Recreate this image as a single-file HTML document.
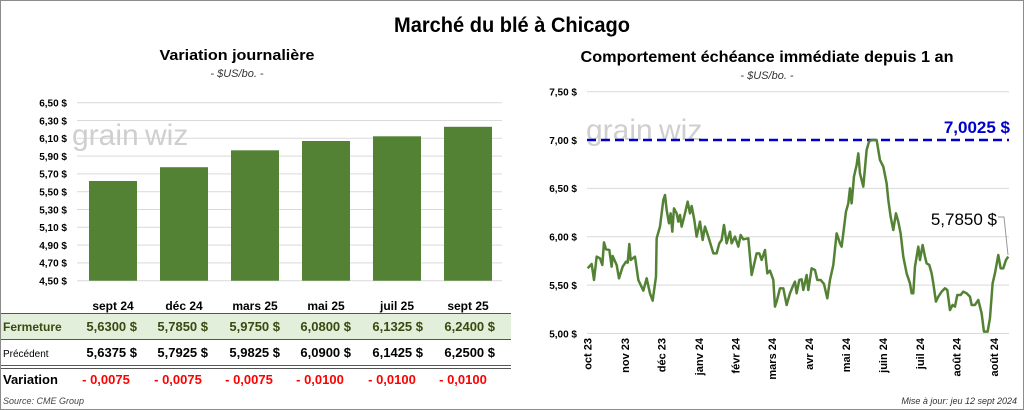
<!DOCTYPE html>
<html><head><meta charset="utf-8"><style>
html,body{margin:0;padding:0;background:#fff}
svg{display:block;font-family:"Liberation Sans",sans-serif}
</style></head><body>
<svg width="1024" height="410" viewBox="0 0 1024 410" xmlns="http://www.w3.org/2000/svg">
<rect x="0.5" y="0.5" width="1023" height="409" fill="#fff" stroke="#8c8c8c"/>
<text x="512" y="32" font-size="21" font-weight="bold" text-anchor="middle" textLength="236" lengthAdjust="spacingAndGlyphs">Marché du blé à Chicago</text>
<!-- Left panel -->
<text x="237" y="60" font-size="15" font-weight="bold" text-anchor="middle" textLength="155" lengthAdjust="spacingAndGlyphs">Variation  journalière</text>
<text x="237" y="77" font-size="11" font-style="italic" text-anchor="middle" fill="#333">- $US/bo. -</text>
<g stroke="#d9d9d9" stroke-width="1">
<line x1="77" x2="502" y1="102.7" y2="102.7"/><line x1="77" x2="502" y1="120.5" y2="120.5"/>
<line x1="77" x2="502" y1="138.3" y2="138.3"/><line x1="77" x2="502" y1="156.1" y2="156.1"/>
<line x1="77" x2="502" y1="173.9" y2="173.9"/><line x1="77" x2="502" y1="191.7" y2="191.7"/>
<line x1="77" x2="502" y1="209.5" y2="209.5"/><line x1="77" x2="502" y1="227.3" y2="227.3"/>
<line x1="77" x2="502" y1="245.1" y2="245.1"/><line x1="77" x2="502" y1="262.9" y2="262.9"/>
<line x1="77" x2="502" y1="280.7" y2="280.7"/>
</g>
<g font-size="10" font-weight="bold" text-anchor="end">
<text x="67" y="106.5">6,50 $</text><text x="67" y="124.3">6,30 $</text><text x="67" y="142.1">6,10 $</text>
<text x="67" y="159.9">5,90 $</text><text x="67" y="177.7">5,70 $</text><text x="67" y="195.5">5,50 $</text>
<text x="67" y="213.3">5,30 $</text><text x="67" y="231.1">5,10 $</text><text x="67" y="248.9">4,90 $</text>
<text x="67" y="266.7">4,70 $</text><text x="67" y="284.5">4,50 $</text>
</g>
<text x="72" y="145" font-size="30" fill="#cfcfcf">grain</text><text x="145" y="145" font-size="30" fill="#cfcfcf">wiz</text>
<g fill="#548235">
<rect x="89" y="181" width="48" height="99.7"/><rect x="160" y="167.2" width="48" height="113.5"/>
<rect x="231" y="150.3" width="48" height="130.4"/><rect x="302" y="141" width="48" height="139.7"/>
<rect x="373" y="136.3" width="48" height="144.4"/><rect x="444" y="126.8" width="48" height="153.9"/>
</g>
<g font-size="12" font-weight="bold" text-anchor="middle">
<text x="113" y="310">sept 24</text><text x="184" y="310">déc 24</text><text x="255" y="310">mars 25</text>
<text x="326" y="310">mai 25</text><text x="397" y="310">juil 25</text><text x="468" y="310">sept 25</text>
</g>
<rect x="1" y="314" width="510" height="25" fill="#e2efda"/>
<line x1="1" x2="511" y1="313.5" y2="313.5" stroke="#555"/>
<line x1="1" x2="511" y1="339.5" y2="339.5" stroke="#555"/>
<line x1="1" x2="511" y1="365.5" y2="365.5" stroke="#555"/>
<line x1="1" x2="511" y1="368.5" y2="368.5" stroke="#555"/>
<text x="3" y="331" font-size="12" font-weight="bold" fill="#3a4a10">Fermeture</text>
<g font-size="13" font-weight="bold" fill="#3a4a10" text-anchor="end">
<text x="137" y="331">5,6300  $</text><text x="208" y="331">5,7850  $</text><text x="280" y="331">5,9750  $</text>
<text x="351" y="331">6,0800  $</text><text x="423" y="331">6,1325  $</text><text x="495" y="331">6,2400  $</text>
</g>
<text x="3" y="357" font-size="10">Précédent</text>
<g font-size="13" font-weight="bold" text-anchor="end">
<text x="137" y="357">5,6375  $</text><text x="208" y="357">5,7925  $</text><text x="280" y="357">5,9825  $</text>
<text x="351" y="357">6,0900  $</text><text x="423" y="357">6,1425  $</text><text x="495" y="357">6,2500  $</text>
</g>
<text x="3" y="384" font-size="13" font-weight="bold">Variation</text>
<g font-size="13" font-weight="bold" fill="#ff0000" text-anchor="middle">
<text x="106" y="384">- 0,0075</text><text x="178" y="384">- 0,0075</text><text x="249" y="384">- 0,0075</text>
<text x="320" y="384">- 0,0100</text><text x="392" y="384">- 0,0100</text><text x="463" y="384">- 0,0100</text>
</g>
<text x="3" y="404" font-size="9" font-style="italic" fill="#444">Source: CME Group</text>
<!-- Right panel -->
<text x="767" y="62" font-size="16" font-weight="bold" text-anchor="middle" textLength="373" lengthAdjust="spacingAndGlyphs">Comportement  échéance immédiate depuis 1 an</text>
<text x="767" y="79" font-size="11" font-style="italic" text-anchor="middle" fill="#333">- $US/bo. -</text>
<g stroke="#d9d9d9"><line x1="587" x2="1009" y1="91.7" y2="91.7"/><line x1="587" x2="1009" y1="188.4" y2="188.4"/>
<line x1="587" x2="1009" y1="236.8" y2="236.8"/><line x1="587" x2="1009" y1="285.1" y2="285.1"/><line x1="587" x2="1009" y1="333.5" y2="333.5"/></g>
<g font-size="10" font-weight="bold" text-anchor="end">
<text x="577" y="95.5">7,50 $</text><text x="577" y="143.8">7,00 $</text><text x="577" y="192.2">6,50 $</text>
<text x="577" y="240.6">6,00 $</text><text x="577" y="288.9">5,50 $</text><text x="577" y="337.3">5,00 $</text>
</g>
<text x="586" y="140" font-size="30" fill="#cfcfcf">grain</text><text x="659" y="140" font-size="30" fill="#cfcfcf">wiz</text>
<line x1="587" x2="1009" y1="140" y2="140" stroke="#0000cc" stroke-width="2.5" stroke-dasharray="9,5"/>
<text x="1010" y="133" font-size="17" font-weight="bold" fill="#0000cc" text-anchor="end">7,0025 $</text>
<text x="997" y="225" font-size="17" text-anchor="end">5,7850 $</text>
<polyline points="998,217 1004,217 1008,255" fill="none" stroke="#999" stroke-width="1"/>
<g transform="translate(520,80) scale(0.3333)">
<polyline fill="none" stroke="#548235" stroke-width="7.5" stroke-linejoin="round" points="203,565 215,552 222,600 230,530 240,535 247,555 252,487 258,508 268,510 275,560 278,528 290,555 297,595 308,560 318,545 323,548 328,492 332,540 345,530 355,600 370,632 380,595 390,640 398,662 408,590 410,475 420,440 430,360 435,345 440,390 447,430 452,400 457,455 462,385 470,400 475,425 480,405 485,440 495,400 503,365 510,400 515,378 523,420 530,470 540,425 548,480 555,440 565,470 580,520 590,520 598,490 605,480 612,435 620,490 630,455 635,490 645,470 655,500 662,465 670,478 685,475 695,585 710,520 718,520 725,540 735,510 742,580 750,572 760,600 765,680 770,665 780,625 790,625 800,675 810,640 818,620 825,605 830,640 838,600 845,598 850,630 860,585 865,630 875,565 885,570 892,600 902,600 912,612 922,655 930,600 940,555 950,460 960,490 965,500 970,460 978,395 985,370 990,325 995,370 1002,290 1010,255 1015,220 1020,280 1030,320 1040,210 1047,185 1055,180 1070,180 1080,240 1090,260 1100,310 1105,360 1112,410 1120,450 1128,400 1135,425 1142,460 1150,530 1160,580 1170,610 1175,640 1180,640 1185,560 1195,500 1200,540 1208,495 1215,530 1220,550 1228,555 1235,580 1240,610 1248,665 1255,650 1265,635 1275,625 1282,630 1290,690 1298,675 1305,680 1312,645 1322,645 1330,635 1340,640 1350,650 1355,675 1365,675 1375,660 1385,700 1392,755 1403,755 1410,715 1418,610 1425,580 1435,525 1442,565 1450,565 1458,540 1465,530"/>
</g>
<g font-size="11" font-weight="bold" text-anchor="end">
<text transform="translate(591.5,338) rotate(-90)">oct 23</text>
<text transform="translate(629,338) rotate(-90)">nov 23</text>
<text transform="translate(665.5,338) rotate(-90)">déc 23</text>
<text transform="translate(703,338) rotate(-90)">janv 24</text>
<text transform="translate(739.5,338) rotate(-90)">févr 24</text>
<text transform="translate(776,338) rotate(-90)">mars 24</text>
<text transform="translate(813,338) rotate(-90)">avr 24</text>
<text transform="translate(850,338) rotate(-90)">mai 24</text>
<text transform="translate(887,338) rotate(-90)">juin 24</text>
<text transform="translate(924,338) rotate(-90)">juil 24</text>
<text transform="translate(960.5,338) rotate(-90)">août 24</text>
<text transform="translate(998,338) rotate(-90)">août 24</text>
</g>
<text x="1017" y="404" font-size="9" font-style="italic" fill="#333" text-anchor="end">Mise à jour: jeu 12 sept 2024</text>
</svg>
</body></html>
